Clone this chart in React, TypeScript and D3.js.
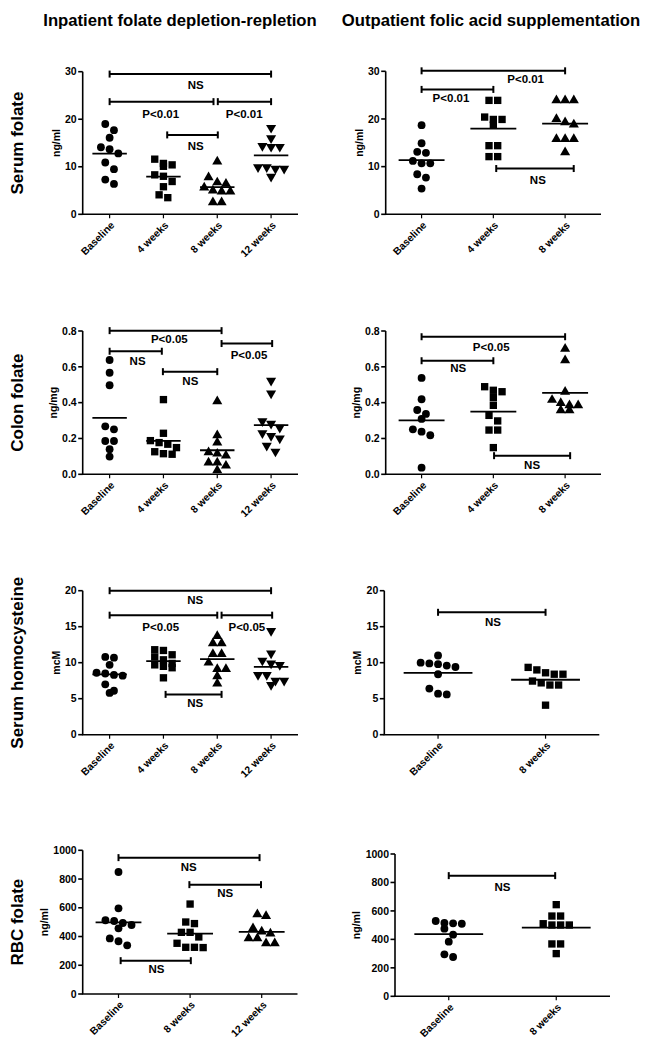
import React from "react";
import * as d3 from "d3";

// ---------- categories ----------
const inpatientWeeks = ["Baseline", "4 weeks", "8 weeks", "12 weeks"];
const outpatientWeeks = ["Baseline", "4 weeks", "8 weeks"];
const inpatientRbcWeeks = ["Baseline", "8 weeks", "12 weeks"];
const outpatientTwoWeeks = ["Baseline", "8 weeks"];

// ---------- tick values ----------
const serumFolateTicks = [0, 10, 20, 30];
const colonFolateTicks = [0, 0.2, 0.4, 0.6, 0.8];
const homocysteineTicks = [0, 5, 10, 15, 20];
const rbcFolateTicks = [0, 200, 400, 600, 800, 1000];

// ---------- serum folate (ng/ml) ----------
const serumIn0 = [19.0, 17.7, 16.1, 14.1, 13.7, 12.8, 10.9, 9.5, 7.3, 6.4];
const serumIn4 = [11.6, 10.7, 10.4, 10.1, 8.3, 8.0, 6.9, 5.8, 4.1, 3.5];
const serumIn8 = [11.1, 7.8, 6.7, 6.4, 5.6, 5.0, 4.8, 4.8, 2.5, 2.5];
const serumIn12 = [18.2, 16.0, 14.4, 14.2, 14.2, 9.9, 9.9, 9.6, 9.6, 7.9];
const serumOut0 = [18.7, 14.9, 13.1, 12.9, 11.2, 10.7, 10.7, 8.4, 7.7, 5.4];
const serumOut4 = [23.9, 23.9, 20.4, 19.9, 19.9, 18.7, 14.4, 14.4, 12.1, 12.1];
const serumOut8 = [23.9, 23.9, 23.9, 20.0, 19.3, 18.8, 15.8, 15.8, 15.8, 13.0];

// ---------- colon folate (ng/mg) ----------
const colonIn0 = [0.638, 0.567, 0.497, 0.268, 0.251, 0.186, 0.186, 0.14, 0.099];
const colonIn4 = [0.417, 0.229, 0.188, 0.177, 0.168, 0.149, 0.126, 0.115, 0.112];
const colonIn8 = [0.407, 0.218, 0.177, 0.123, 0.115, 0.104, 0.065, 0.065, 0.048, 0.022];
const colonIn12 = [0.523, 0.452, 0.296, 0.283, 0.26, 0.229, 0.214, 0.2, 0.16, 0.127];
const colonOut0 = [0.538, 0.419, 0.359, 0.337, 0.309, 0.251, 0.238, 0.218, 0.037];
const colonOut4 = [0.489, 0.469, 0.461, 0.428, 0.385, 0.329, 0.298, 0.247, 0.247, 0.149];
const colonOut8 = [0.7, 0.636, 0.46, 0.415, 0.398, 0.385, 0.385, 0.357, 0.357];

// ---------- serum homocysteine (mcM) ----------
const homoIn0 = [10.8, 10.7, 9.7, 8.6, 8.5, 8.3, 8.2, 7.0, 6.1, 5.8];
const homoIn4 = [11.8, 11.7, 11.1, 10.8, 10.4, 9.9, 9.7, 9.5, 9.3, 7.9];
const homoIn8 = [13.7, 12.7, 12.7, 11.2, 11.2, 10.0, 9.1, 9.1, 8.1, 7.1];
const homoIn12 = [14.4, 11.3, 10.3, 9.9, 9.7, 8.3, 8.3, 7.5, 7.5, 6.9];
const homoOut0 = [11.0, 10.0, 9.9, 9.8, 9.6, 9.4, 8.4, 6.4, 5.7, 5.6];
const homoOut8 = [9.35, 9.0, 8.6, 8.4, 8.4, 7.45, 7.2, 6.9, 6.9, 4.1];

// ---------- RBC folate (ng/ml) ----------
const rbcIn0 = [849, 596, 513, 508, 494, 480, 457, 387, 367, 339];
const rbcIn8 = [626, 501, 490, 429, 429, 397, 353, 325, 325, 323];
const rbcIn12 = [555, 543, 457, 434, 420, 387, 387, 353, 353];
const rbcOut0 = [529, 515, 513, 510, 475, 433, 384, 295, 276];
const rbcOut8 = [644, 564, 564, 510, 501, 501, 501, 368, 368, 300];

// ---------- significance brackets (category index units, data y units) ----------
type Bracket = { from: number; to: number; y: number; label: string; labelY: number; labelAt: number };
const serumInBrackets: Bracket[] = [
  { from: 0, to: 3, y: 29.5, label: "NS", labelY: 27.3, labelAt: 1.6 },
  { from: 0, to: 1.93, y: 23.7, label: "P<0.01", labelY: 21.1, labelAt: 0.95 },
  { from: 2.01, to: 3, y: 23.7, label: "P<0.01", labelY: 21.1, labelAt: 2.5 },
  { from: 1.07, to: 2.01, y: 16.7, label: "NS", labelY: 14.4, labelAt: 1.6 },
];
const serumOutBrackets: Bracket[] = [
  { from: 0, to: 2, y: 30.1, label: "P<0.01", labelY: 28.3, labelAt: 1.45 },
  { from: 0, to: 1, y: 26.2, label: "P<0.01", labelY: 24.3, labelAt: 0.41 },
  { from: 1.04, to: 2.12, y: 9.6, label: "NS", labelY: 7.3, labelAt: 1.62 },
];
const colonInBrackets: Bracket[] = [
  { from: 0, to: 2.08, y: 0.802, label: "P<0.05", labelY: 0.754, labelAt: 1.11 },
  { from: 0, to: 0.97, y: 0.687, label: "NS", labelY: 0.635, labelAt: 0.52 },
  { from: 2.08, to: 3.02, y: 0.73, label: "P<0.05", labelY: 0.668, labelAt: 2.59 },
  { from: 0.99, to: 2.0, y: 0.573, label: "NS", labelY: 0.521, labelAt: 1.5 },
];
const colonOutBrackets: Bracket[] = [
  { from: 0, to: 2, y: 0.768, label: "P<0.05", labelY: 0.713, labelAt: 0.97 },
  { from: 0, to: 1, y: 0.634, label: "NS", labelY: 0.592, labelAt: 0.51 },
  { from: 1.01, to: 2.07, y: 0.104, label: "NS", labelY: 0.052, labelAt: 1.54 },
];
const homoInBrackets: Bracket[] = [
  { from: 0, to: 3, y: 20.0, label: "NS", labelY: 18.75, labelAt: 1.59 },
  { from: 0, to: 2.0, y: 16.6, label: "P<0.05", labelY: 15.0, labelAt: 0.95 },
  { from: 2.08, to: 3.02, y: 16.6, label: "P<0.05", labelY: 15.0, labelAt: 2.55 },
  { from: 1.04, to: 2.08, y: 5.6, label: "NS", labelY: 4.35, labelAt: 1.59 },
];
const homoOutBrackets: Bracket[] = [
  { from: 0, to: 1, y: 17.0, label: "NS", labelY: 15.6, labelAt: 0.51 },
];
const rbcInBrackets: Bracket[] = [
  { from: 0, to: 1.97, y: 949, label: "NS", labelY: 882, labelAt: 0.98 },
  { from: 0.99, to: 1.99, y: 761, label: "NS", labelY: 703, labelAt: 1.49 },
  { from: 0.03, to: 1.01, y: 232, label: "NS", labelY: 176, labelAt: 0.53 },
];
const rbcOutBrackets: Bracket[] = [
  { from: 0, to: 0.99, y: 848, label: "NS", labelY: 770, labelAt: 0.5 },
];

const columnTitles = ["Inpatient folate depletion-repletion", "Outpatient folic acid supplementation"];
const rowTitles = ["Serum folate", "Colon folate", "Serum homocysteine", "RBC folate"];

// ---------- layout ----------
const FONT = "'Liberation Sans', Arial, Helvetica, sans-serif";

type Panel = {
  cats: string[];
  groups: number[][];
  ticks: number[];
  fmt: (v: number) => string;
  unit: string;
  brackets: Bracket[];
  x0: number; x1: number; yTop: number; yBot: number;
};

const intFmt = (v: number) => d3.format("d")(v);
const decFmt = (v: number) => d3.format(".1f")(v);

const panels: Panel[] = [
  { cats: inpatientWeeks, groups: [serumIn0, serumIn4, serumIn8, serumIn12], ticks: serumFolateTicks, fmt: intFmt, unit: "ng/ml", brackets: serumInBrackets, x0: 82.7, x1: 298, yTop: 71.7, yBot: 214.3 },
  { cats: outpatientWeeks, groups: [serumOut0, serumOut4, serumOut8], ticks: serumFolateTicks, fmt: intFmt, unit: "ng/ml", brackets: serumOutBrackets, x0: 385.7, x1: 601, yTop: 71.3, yBot: 214.3 },
  { cats: inpatientWeeks, groups: [colonIn0, colonIn4, colonIn8, colonIn12], ticks: colonFolateTicks, fmt: decFmt, unit: "ng/mg", brackets: colonInBrackets, x0: 82.7, x1: 298, yTop: 331, yBot: 474.3 },
  { cats: outpatientWeeks, groups: [colonOut0, colonOut4, colonOut8], ticks: colonFolateTicks, fmt: decFmt, unit: "ng/mg", brackets: colonOutBrackets, x0: 385.7, x1: 601, yTop: 331, yBot: 474.3 },
  { cats: inpatientWeeks, groups: [homoIn0, homoIn4, homoIn8, homoIn12], ticks: homocysteineTicks, fmt: intFmt, unit: "mcM", brackets: homoInBrackets, x0: 82.7, x1: 298, yTop: 590.7, yBot: 734.7 },
  { cats: outpatientTwoWeeks, groups: [homoOut0, homoOut8], ticks: homocysteineTicks, fmt: intFmt, unit: "mcM", brackets: homoOutBrackets, x0: 384.3, x1: 599.3, yTop: 590.7, yBot: 734.7 },
  { cats: inpatientRbcWeeks, groups: [rbcIn0, rbcIn8, rbcIn12], ticks: rbcFolateTicks, fmt: intFmt, unit: "ng/ml", brackets: rbcInBrackets, x0: 82.7, x1: 297.5, yTop: 850.3, yBot: 994 },
  { cats: outpatientTwoWeeks, groups: [rbcOut0, rbcOut8], ticks: rbcFolateTicks, fmt: intFmt, unit: "ng/ml", brackets: rbcOutBrackets, x0: 395, x1: 610, yTop: 854, yBot: 996.3 },
];

const symbolTypes = [d3.symbolCircle, d3.symbolSquare, d3.symbolTriangle, d3.symbolTriangle];
const symbolSizes = [48, 54, 44, 44];
const symbolRotate = [0, 0, 0, 180];

function swarm(values: number[], y: (v: number) => number, spacing: number, rowGap: number) {
  const pts = values.map((v) => ({ v, py: y(v) })).sort((a, b) => a.py - b.py);
  const rows: { v: number; py: number }[][] = [];
  for (const p of pts) {
    const last = rows[rows.length - 1];
    if (last && p.py - last[0].py < rowGap) last.push(p);
    else rows.push([p]);
  }
  const out: { v: number; py: number; dx: number }[] = [];
  rows.forEach((row) => {
    const n = row.length;
    row.forEach((p, k) => out.push({ ...p, dx: (k - (n - 1) / 2) * spacing }));
  });
  return out;
}

function textWidth(s: string, size: number) {
  let w = 0;
  for (const c of s) w += c === "." ? 0.278 : 0.556;
  return w * size;
}

function PanelView({ p }: { p: Panel }) {
  const x = d3.scalePoint<string>().domain(p.cats).range([p.x0, p.x1]).padding(0.5);
  const step = x.step();
  const xi = (idx: number) => (x(p.cats[0]) as number) + idx * step;
  const y = d3.scaleLinear().domain([p.ticks[0], p.ticks[p.ticks.length - 1]]).range([p.yBot, p.yTop]);
  const maxW = d3.max(p.ticks, (t) => textWidth(p.fmt(t), 10.5)) as number;
  const sw = 1.6;
  return (
    <g>
      {/* y axis */}
      <line x1={p.x0} x2={p.x0} y1={p.yTop} y2={p.yBot} stroke="#000" strokeWidth={sw} />
      {p.ticks.map((t) => (
        <g key={t}>
          <line x1={p.x0 - 4.5} x2={p.x0} y1={y(t)} y2={y(t)} stroke="#000" strokeWidth={sw} />
          <text x={p.x0 - 6} y={y(t)} dy="0.35em" textAnchor="end" fontSize={10.5} fontWeight="bold" fontFamily={FONT}>
            {p.fmt(t)}
          </text>
        </g>
      ))}
      <text
        transform={`translate(${p.x0 - maxW - 15},${(p.yTop + p.yBot) / 2}) rotate(-90)`}
        dy="0.35em"
        textAnchor="middle"
        fontSize={10.5}
        fontWeight="bold"
        fontFamily={FONT}
      >
        {p.unit}
      </text>
      {/* x axis */}
      <line x1={p.x0 - sw / 2} x2={p.x1} y1={p.yBot} y2={p.yBot} stroke="#000" strokeWidth={sw} />
      {p.cats.map((c) => (
        <g key={c}>
          <line x1={x(c)} x2={x(c)} y1={p.yBot} y2={p.yBot + 4} stroke="#000" strokeWidth={1.2} />
          <text
            transform={`translate(${(x(c) as number) + 3},${p.yBot + 9}) rotate(-45)`}
            dy="0.35em"
            textAnchor="end"
            fontSize={10.3}
            fontWeight="bold"
            fontFamily={FONT}
          >
            {c}
          </text>
        </g>
      ))}
      {/* points and means */}
      {p.groups.map((vals, gi) => {
        const cx = x(p.cats[gi]) as number;
        const pts = swarm(vals, y, 8.7, 7);
        const sym = d3.symbol().type(symbolTypes[gi]).size(symbolSizes[gi]);
        const m = d3.mean(vals) as number;
        const half = step * 0.32;
        return (
          <g key={gi}>
            {pts.map((pt, k) => (
              <path
                key={k}
                d={sym() as string}
                transform={`translate(${cx + pt.dx},${pt.py}) rotate(${symbolRotate[gi]})`}
                fill="#000"
              />
            ))}
            <line x1={cx - half} x2={cx + half} y1={y(m)} y2={y(m)} stroke="#000" strokeWidth={1.8} />
          </g>
        );
      })}
      {/* brackets */}
      {p.brackets.map((b, k) => {
        const bx1 = xi(b.from);
        const bx2 = xi(b.to);
        const by = y(b.y);
        return (
          <g key={k}>
            <line x1={bx1} x2={bx2} y1={by} y2={by} stroke="#000" strokeWidth={2} />
            <line x1={bx1} x2={bx1} y1={by - 3.5} y2={by + 3.5} stroke="#000" strokeWidth={2} />
            <line x1={bx2} x2={bx2} y1={by - 3.5} y2={by + 3.5} stroke="#000" strokeWidth={2} />
            <text x={xi(b.labelAt)} y={y(b.labelY)} dy="0.35em" textAnchor="middle" fontSize={11.5} fontWeight="bold" fontFamily={FONT}>
              {b.label}
            </text>
          </g>
        );
      })}
    </g>
  );
}

export default function App() {
  const rowPanels = [0, 2, 4, 6];
  return (
    <svg width={646} height={1050} style={{ position: "absolute", left: 0, top: 0, background: "#fff" }}>
      <rect width={646} height={1050} fill="#fff" />
      <text x={180} y={26} textAnchor="middle" fontSize={16.7} fontWeight="bold" fontFamily={FONT}>
        {columnTitles[0]}
      </text>
      <text x={491} y={26} textAnchor="middle" fontSize={16.7} fontWeight="bold" fontFamily={FONT}>
        {columnTitles[1]}
      </text>
      {rowTitles.map((t, i) => {
        const p = panels[rowPanels[i]];
        return (
          <text
            key={t}
            transform={`translate(23,${(p.yTop + p.yBot) / 2}) rotate(-90)`}
            textAnchor="middle"
            fontSize={17}
            fontWeight="bold"
            fontFamily={FONT}
          >
            {t}
          </text>
        );
      })}
      {panels.map((p, i) => (
        <PanelView key={i} p={p} />
      ))}
    </svg>
  );
}
